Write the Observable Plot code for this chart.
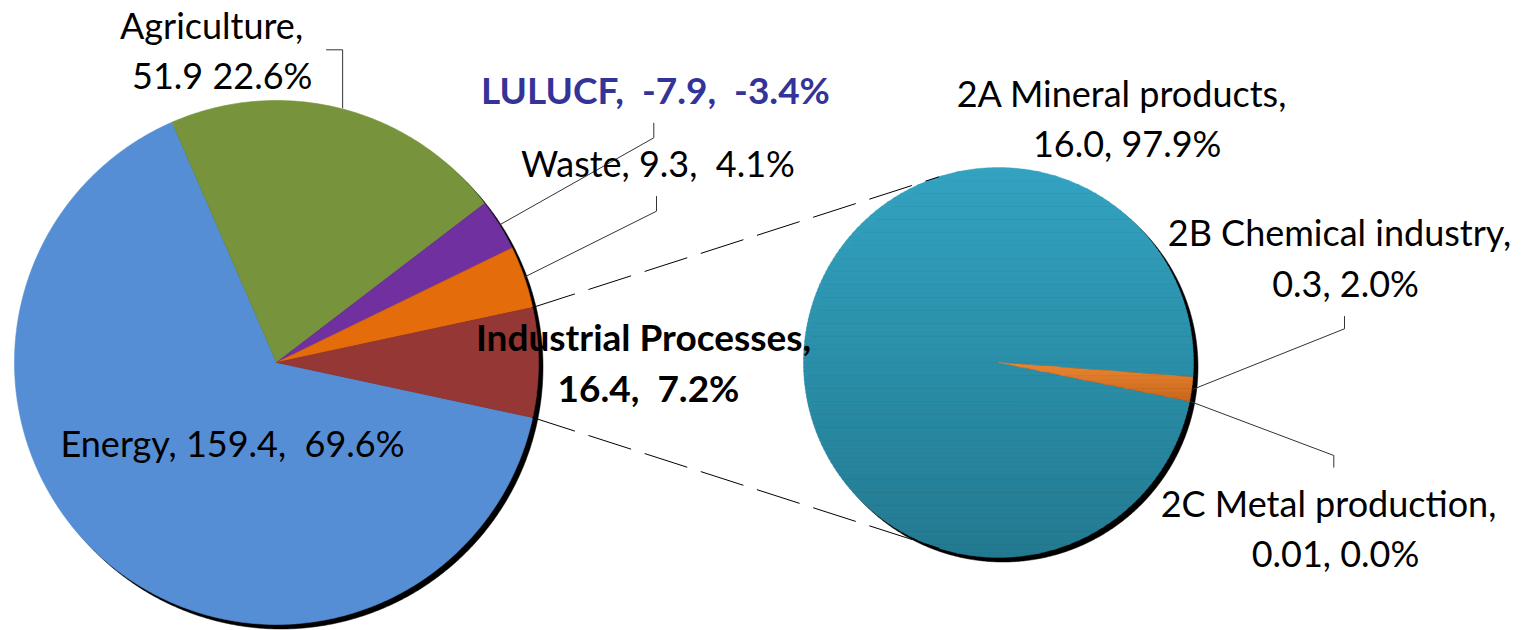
<!DOCTYPE html>
<html><head><meta charset="utf-8">
<script src="https://cdn.jsdelivr.net/npm/d3@7"></script>
<script src="https://cdn.jsdelivr.net/npm/@observablehq/plot@0.6"></script>
<style>
html,body{margin:0;padding:0;background:#fff;}
svg text{white-space:pre;}
</style></head><body>
<script>
// ---- Data: main pie (emissions by sector) ----
const mainNames  = ["Energy", "Agriculture", "LULUCF", "Waste", "Industrial Processes"];
const mainValues = [159.4, 51.9, -7.9, 9.3, 16.4];
const mainPcts   = [69.6, 22.6, -3.4, 4.1, 7.2];
const mainColors = ["#558ED5", "#77933C", "#7030A0", "#E46C0A", "#953735"];

// ---- Data: secondary pie (breakdown of Industrial Processes) ----
const subNames  = ["2A Mineral products", "2B Chemical industry", "2C Metal production"];
const subValues = [16.0, 0.3, 0.01];
const subPcts   = [97.9, 2.0, 0.0];
// gradient top / bottom colours for each sub slice
const subColorsTop    = ["#33A3C1", "#EA8733", "#A5A5A5"];
const subColorsBottom = ["#237A90", "#C8661C", "#808080"];

// ---- Layout (pixels) ----
const W = 1527, H = 630;
const L = {cx: 276, cy: 362, r: 262};
const R = {cx: 998, cy: 362, r: 195};
const SH = {dx: 4.5, dy: 4.5};
const FS = 36, FSB = 37;
const BANDS = 90;
const deg = Math.PI / 180;
const subStart = 101.5 * deg;

const fmtV = v => Math.abs(v) >= 0.1 ? v.toFixed(1) : String(v);
const fmtP = p => p.toFixed(1) + "%";

const mainRows = mainNames.map((name, i) => ({name, value: mainValues[i], pct: mainPcts[i], color: mainColors[i]}));
const subRows  = subNames.map((name, i) => ({name, value: subValues[i], pct: subPcts[i], top: subColorsTop[i], bottom: subColorsBottom[i]}));

const pt = (c, a, r = c.r) => [c.cx + r * Math.sin(a), c.cy - r * Math.cos(a)];

// Industrial Processes slice is centred at 3 o'clock
const ipFrac = Math.abs(mainPcts[4]) / d3.sum(mainPcts, Math.abs);
const mainStart = Math.PI / 2 + ipFrac * Math.PI;
const mainArcs = d3.pie().sort(null).value(d => Math.abs(d.pct))
  .startAngle(mainStart).endAngle(mainStart + 2 * Math.PI)(mainRows);
const subArcs = d3.pie().sort(null).value(d => Math.abs(d.pct))
  .startAngle(subStart).endAngle(subStart + 2 * Math.PI)(subRows);

function slicePoly(c, a0, a1) {
  if (a1 - a0 < 1e-6) return [];
  const n = Math.max(2, Math.ceil((a1 - a0) / (0.5 * deg)));
  const pts = [[c.cx, c.cy]];
  for (let i = 0; i <= n; i++) pts.push(pt(c, a0 + (a1 - a0) * i / n));
  return pts;
}
const closeRows = (poly, extra) => poly.length ? [...poly, poly[0]].map(([x, y]) => ({x, y, ...extra})) : [];

// main pie: flat colours
const mainPts = mainArcs.flatMap(a => closeRows(slicePoly(L, a.startAngle, a.endAngle), {key: a.data.name, color: a.data.color}));

// secondary pie: vertical gradient built from horizontal bands of each slice
function clipBand(poly, y0, y1) {
  const clip = (pts, inside, yc) => {
    const out = [];
    for (let i = 0; i < pts.length; i++) {
      const cur = pts[i], prev = pts[(i + pts.length - 1) % pts.length];
      const ci = inside(cur), pi = inside(prev);
      const cross = () => [prev[0] + (cur[0] - prev[0]) * (yc - prev[1]) / (cur[1] - prev[1]), yc];
      if (ci) { if (!pi) out.push(cross()); out.push(cur); }
      else if (pi) out.push(cross());
    }
    return out;
  };
  let p = clip(poly, q => q[1] >= y0, y0);
  if (p.length) p = clip(p, q => q[1] <= y1, y1);
  return p.length >= 3 ? p : [];
}
const subPts = [];
for (const a of subArcs) {
  const poly = slicePoly(R, a.startAngle, a.endAngle);
  if (!poly.length) continue;
  const ys = poly.map(p => p[1]);
  const yMin = d3.min(ys), yMax = d3.max(ys);
  const interp = d3.interpolateRgb(a.data.top, a.data.bottom);
  const step = (2 * R.r) / BANDS;
  for (let y0 = yMin; y0 < yMax; y0 += step) {
    const y1 = Math.min(yMax, y0 + step);
    const band = clipBand(poly, y0 - 0.3, y1 + 0.3);
    const color = d3.color(interp(((y0 + y1) / 2 - yMin) / (yMax - yMin))).formatHex();
    subPts.push(...closeRows(band, {key: `${a.data.name}-${y0.toFixed(2)}`, color}));
  }
}

function circleRows(c, key, dx, dy) {
  const out = [];
  for (let i = 0; i <= 720; i++) {
    const [x, y] = pt(c, i * 0.5 * deg);
    out.push({x: x + dx, y: y + dy, key});
  }
  return out;
}
const shadowPts = [...circleRows(L, "L", SH.dx, SH.dy), ...circleRows(R, "R", SH.dx, SH.dy)];

// Dashed connectors: tangents from Industrial Processes edges to the secondary pie
const ip = mainArcs[4];
function tangent(P, c, sign) {
  const dx = c.cx - P[0], dy = c.cy - P[1];
  const d = Math.hypot(dx, dy);
  const phi = Math.atan2(dy, dx), alpha = Math.asin(c.r / d);
  const len = Math.sqrt(d * d - c.r * c.r);
  const th = phi + sign * alpha;
  return [P, [P[0] + len * Math.cos(th), P[1] + len * Math.sin(th)]];
}
const connectors = [
  tangent(pt(L, ip.startAngle), R, -1).map(([x, y]) => ({x, y, key: "upper"})),
  tangent(pt(L, ip.endAngle), R, +1).map(([x, y]) => ({x, y, key: "lower"}))
].flat();

// Leader lines: from slice middle on the rim to the label
const leaderLayout = {
  "Agriculture":          {pie: "L", elbow: [null, 49.3], end: [326, 49.3]},
  "LULUCF":               {pie: "L", elbow: [653.3, 137.3], end: [653.3, 122.7]},
  "Waste":                {pie: "L", elbow: [656, 210.7], end: [656, 196]},
  "2B Chemical industry": {pie: "R", elbow: [1344, 328.3], end: [1344, 316]},
  "2C Metal production":  {pie: "R", elbow: [1333.3, 455], end: [1333.3, 466.7]}
};
const leaders = [];
for (const [name, lay] of Object.entries(leaderLayout)) {
  const arcs = lay.pie === "L" ? mainArcs : subArcs;
  const c = lay.pie === "L" ? L : R;
  const a = arcs.find(d => d.data.name === name);
  const [x0, y0] = pt(c, (a.startAngle + a.endAngle) / 2, c.r + 1);
  const ex = lay.elbow[0] == null ? x0 : lay.elbow[0];
  leaders.push({x: x0, y: y0, key: name}, {x: ex, y: lay.elbow[1], key: name}, {x: lay.end[0], y: lay.end[1], key: name});
}

// Labels (centre x, baseline y for each line)
const labelLayout = {
  "Energy":               [[232, 456.7]],
  "Agriculture":          [[211, 38.3], [221.7, 88.3]],
  "LULUCF":               [[655, 103.3]],
  "Waste":                [[657.5, 176.7]],
  "Industrial Processes": [[643, 350], [648, 401.7]],
  "2A Mineral products":  [[1121, 106.7], [1126.7, 156.7]],
  "2B Chemical industry": [[1339, 245], [1345, 296.7]],
  "2C Metal production":  [[1328, 516.7], [1335, 566.7]]
};
function labelLines(d) {
  const v = fmtV(d.value), p = fmtP(d.pct);
  switch (d.name) {
    case "Energy": return [`${d.name}, ${v},  ${p}`];
    case "Agriculture": return [`${d.name},`, `${v} ${p}`];
    case "LULUCF": return [`${d.name},  ${v},  ${p}`];
    case "Waste": return [`${d.name}, ${v},  ${p}`];
    case "Industrial Processes": return [`${d.name},`, `${v},  ${p}`];
    default: return [`${d.name},`, `${v}, ${p}`];
  }
}
const labels = [...mainRows, ...subRows].flatMap(d => {
  const style = d.name === "LULUCF" ? "blue" : d.name === "Industrial Processes" ? "bold" : "normal";
  const fs = style === "normal" ? FS : FSB;
  return labelLines(d).map((text, j) => ({
    text, style, x: labelLayout[d.name][j][0], y: labelLayout[d.name][j][1] - 0.32 * fs
  }));
});

const font = "Lato, 'Open Sans', sans-serif";
const svg = Plot.plot({
  width: W, height: H, margin: 0,
  x: {domain: [0, W], range: [0, W], axis: null},
  y: {domain: [0, H], range: [0, H], axis: null},
  color: {type: "identity"},
  style: {background: "white", fontFamily: font},
  marks: [
    Plot.line(shadowPts, {x: "x", y: "y", z: "key", fill: "black", stroke: "black", strokeWidth: 0.5}),
    Plot.line(mainPts, {x: "x", y: "y", z: "key", fill: "color", stroke: "color", strokeWidth: 0.6}),
    Plot.line(subPts, {x: "x", y: "y", z: "key", fill: "color", stroke: "color", strokeWidth: 0.4}),
    Plot.line(connectors, {x: "x", y: "y", z: "key", stroke: "#000", strokeWidth: 1, strokeDasharray: "44,15"}),
    Plot.line(leaders, {x: "x", y: "y", z: "key", stroke: "#333", strokeWidth: 1}),
    Plot.text(labels.filter(d => d.style === "normal"), {x: "x", y: "y", text: "text", fontSize: FS, fill: "#000", fontFamily: font}),
    Plot.text(labels.filter(d => d.style === "bold"), {x: "x", y: "y", text: "text", fontSize: FSB, fontWeight: "bold", fill: "#000", fontFamily: font}),
    Plot.text(labels.filter(d => d.style === "blue"), {x: "x", y: "y", text: "text", fontSize: FSB, fontWeight: "bold", fill: "#333399", fontFamily: font})
  ]
});
document.body.appendChild(svg);
</script>
</body></html>
